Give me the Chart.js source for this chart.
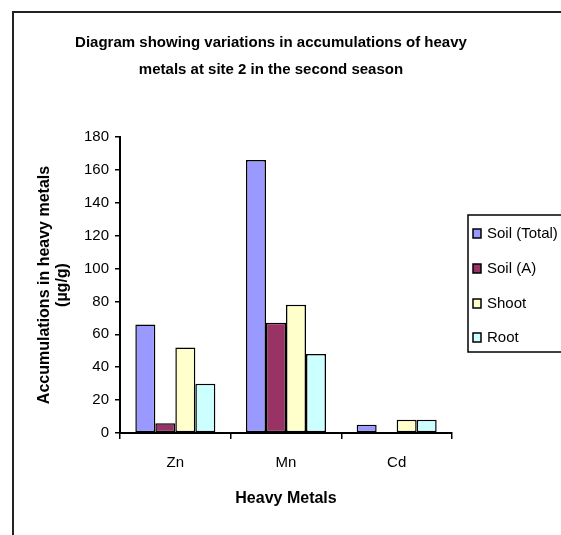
<!DOCTYPE html>
<html>
<head>
<meta charset="utf-8">
<script src="https://cdn.jsdelivr.net/npm/chart.js@4.4.0/dist/chart.umd.min.js"></script>
<style>
  html, body { margin: 0; padding: 0; background: #fff; }
  #wrap { width: 561px; height: 535px; position: relative; }
</style>
</head>
<body>
<div id="wrap"><canvas id="barChart"></canvas></div>
<script>
// data
var metals = ['Zn', 'Mn', 'Cd'];
var soilTotal = [66, 166, 5];
var soilA = [6, 67, 0];
var shoot = [52, 78, 8];
var root = [30, 48, 8];
var yTicks = [0, 20, 40, 60, 80, 100, 120, 140, 160, 180];

var titleLines = ['Diagram showing variations in accumulations of heavy',
                  'metals at site 2 in the second season'];
var FONT = '"Liberation Sans", Arial, sans-serif';

// frame, title and legend box like the excel picture
var decorations = {
  id: 'decorations',
  beforeDraw: function (chart) {
    var ctx = chart.ctx;
    ctx.save();
    ctx.fillStyle = '#fff';
    ctx.fillRect(0, 0, chart.width, chart.height);
    ctx.strokeStyle = '#222';
    ctx.lineWidth = 2;
    ctx.strokeRect(13, 12, chart.width + 20, chart.height + 20);
    ctx.restore();
  },
  afterDraw: function (chart) {
    var ctx = chart.ctx;
    ctx.save();
    // title
    ctx.fillStyle = '#000';
    ctx.font = 'bold 15px ' + FONT;
    ctx.textAlign = 'center';
    ctx.textBaseline = 'middle';
    ctx.fillText(titleLines[0], 271, 43);
    ctx.fillText(titleLines[1], 271, 70);

    // legend
    ctx.strokeStyle = '#000';
    ctx.lineWidth = 1.5;
    ctx.strokeRect(468, 215, 120, 137);
    ctx.font = '15px ' + FONT;
    ctx.textAlign = 'left';
    var ys = [233, 268, 303, 337];
    chart.data.datasets.forEach(function (ds, i) {
      ctx.fillStyle = ds.backgroundColor;
      ctx.fillRect(473, ys[i] - 4, 8, 9);
      ctx.lineWidth = 1.5;
      ctx.strokeRect(473, ys[i] - 4, 8, 9);
      ctx.fillStyle = '#000';
      ctx.fillText(ds.label, 487, ys[i] + 1);
    });
    ctx.restore();
  }
};

var ctxEl = document.getElementById('barChart');
var commonBar = {
  borderColor: '#000',
  borderWidth: 1.5,
  borderSkipped: false,
  categoryPercentage: 0.723,
  barPercentage: 1
};

new Chart(ctxEl, {
  type: 'bar',
  data: {
    labels: metals,
    datasets: [
      Object.assign({ label: 'Soil (Total)', data: soilTotal, backgroundColor: '#9999FF' }, commonBar),
      Object.assign({ label: 'Soil (A)', data: soilA, backgroundColor: '#993366' }, commonBar),
      Object.assign({ label: 'Shoot', data: shoot, backgroundColor: '#FFFFCC' }, commonBar),
      Object.assign({ label: 'Root', data: root, backgroundColor: '#CCFFFF' }, commonBar)
    ]
  },
  options: {
    responsive: true,
    maintainAspectRatio: false,
    animation: false,
    layout: {
      padding: { left: 14, top: 137, right: 109, bottom: 0 }
    },
    plugins: {
      legend: { display: false },
      title: { display: false },
      tooltip: { enabled: false }
    },
    scales: {
      x: {
        grid: {
          display: true,
          drawOnChartArea: false,
          color: '#000',
          tickLength: 6,
          lineWidth: 1.5
        },
        border: { color: '#000', width: 2 },
        ticks: {
          color: '#000',
          font: { family: FONT, size: 15 },
          padding: 15
        },
        title: {
          display: true,
          text: 'Heavy Metals',
          color: '#000',
          font: { family: FONT, size: 16, weight: 'bold' },
          padding: { top: 0, bottom: 27 }
        },
        afterFit: function (scale) { scale.height = 102; }
      },
      y: {
        min: 0,
        max: 180,
        afterBuildTicks: function (scale) {
          scale.ticks = yTicks.map(function (v) { return { value: v }; });
        },
        grid: {
          display: true,
          drawOnChartArea: false,
          color: '#000',
          tickLength: 5,
          lineWidth: 1.5
        },
        border: { color: '#000', width: 2 },
        ticks: {
          color: '#000',
          font: { family: FONT, size: 15 },
          padding: 6
        },
        title: {
          display: true,
          text: ['Accumulations in heavy metals', '(\u00b5g/g)'],
          color: '#000',
          font: { family: FONT, size: 16, weight: 'bold', lineHeight: 1.125 },
          padding: { top: 22, bottom: 0 }
        },
        afterFit: function (scale) { scale.width = 106; }
      }
    }
  },
  plugins: [decorations]
});
</script>
</body>
</html>
